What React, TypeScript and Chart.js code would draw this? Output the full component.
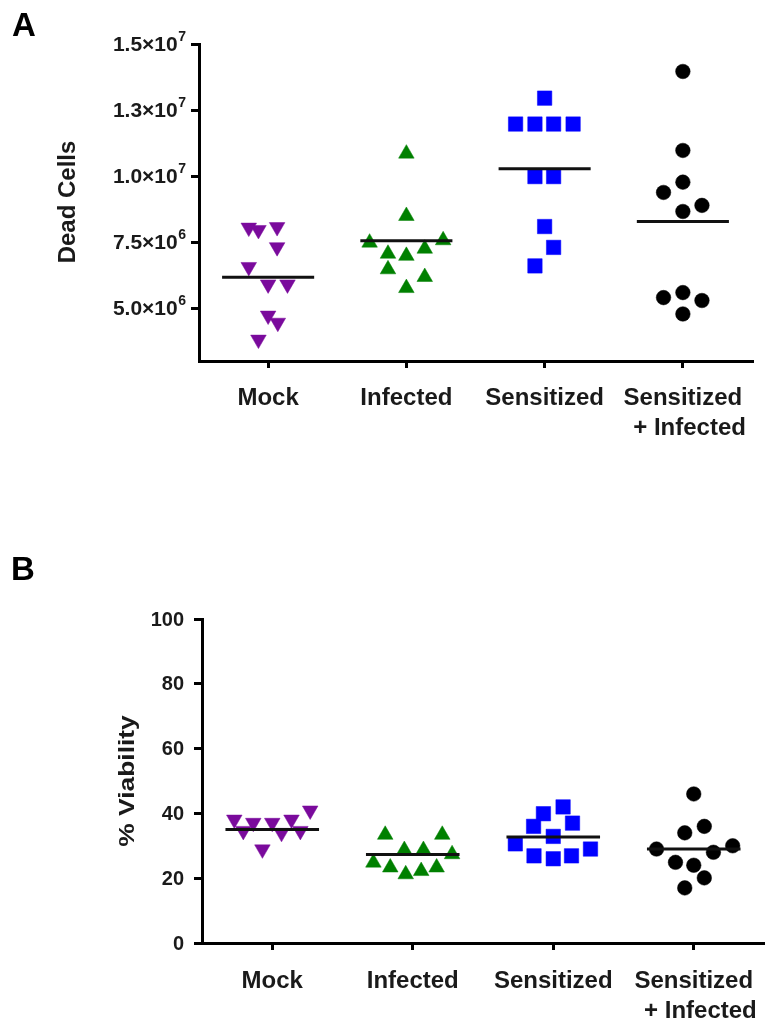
import React, { useEffect, useRef } from "react";
import { Chart, registerables } from "chart.js";

Chart.register(...registerables);

// ---------- shared categories ----------
const categories: string[][] = [["Mock"], ["Infected"], ["Sensitized"], ["Sensitized", "  + Infected"]];

// ---------- Panel A: Dead Cells ----------
const deadTicks = [5e6, 7.5e6, 1e7, 1.25e7, 1.5e7];
const deadTickMantissa = ["5.0×10", "7.5×10", "1.0×10", "1.3×10", "1.5×10"];
const deadTickExponent = ["6", "6", "7", "7", "7"];

const deadMockOffset = [-0.14, -0.07, 0.065, 0.065, -0.14, 0, 0.14, 0, 0.07, -0.07];
const deadMockValues = [8.05e6, 7.96e6, 8.07e6, 7.31e6, 6.56e6, 5.9e6, 5.9e6, 4.72e6, 4.45e6, 3.81e6];

const deadInfectedOffset = [0, 0, -0.266, 0.266, 0.133, -0.133, 0, -0.133, 0.133, 0];
const deadInfectedValues = [10.85e6, 8.49e6, 7.48e6, 7.57e6, 7.25e6, 7.06e6, 6.98e6, 6.47e6, 6.18e6, 5.76e6];

const deadSensOffset = [0, -0.21, -0.07, 0.065, 0.206, -0.07, 0.065, 0, 0.065, -0.07];
const deadSensValues = [12.95e6, 11.97e6, 11.97e6, 11.97e6, 11.97e6, 9.98e6, 9.98e6, 8.09e6, 7.3e6, 6.6e6];

const deadSensInfOffset = [0, 0, 0, -0.14, 0.138, 0, -0.14, 0, 0.138, 0];
const deadSensInfValues = [13.96e6, 10.97e6, 9.77e6, 9.38e6, 8.89e6, 8.66e6, 5.4e6, 5.59e6, 5.29e6, 4.78e6];

const deadMeans = [6.17e6, 7.55e6, 10.28e6, 8.28e6];

// ---------- Panel B: % Viability ----------
const viabTicks = [0, 20, 40, 60, 80, 100];
const viabTickMantissa = ["0", "20", "40", "60", "80", "100"];
const viabTickExponent = ["", "", "", "", "", ""];

const viabMockOffset = [-0.27, -0.206, -0.135, -0.07, 0, 0.066, 0.137, 0.2, 0.27];
const viabMockValues = [38.1, 34.6, 37.1, 28.9, 37.1, 34.0, 38.1, 34.6, 40.9];

const viabInfectedOffset = [-0.196, -0.28, -0.16, -0.06, -0.05, 0.076, 0.06, 0.17, 0.21, 0.28];
const viabInfectedValues = [33.4, 24.8, 23.3, 28.7, 21.2, 28.7, 22.2, 23.3, 33.4, 27.4];

const viabSensOffset = [0.07, -0.07, -0.14, 0.137, 0, -0.27, 0.265, -0.137, 0, 0.13];
const viabSensValues = [42.0, 39.9, 36.0, 37.0, 32.9, 30.6, 29.0, 26.9, 26.0, 26.9];

const viabSensInfOffset = [0, 0.075, -0.064, -0.265, 0.14, 0.277, -0.13, 0, 0.075, -0.064];
const viabSensInfValues = [46.0, 36.0, 34.0, 29.0, 28.0, 30.0, 24.9, 24.0, 20.1, 17.0];

const viabMeans = [35.0, 27.3, 32.7, 29.0];

// ---------- styles ----------
const FONT = '"Liberation Sans", Arial, Helvetica, sans-serif';
const groupStyles = [
  { pointStyle: "triangle", rotation: 180, color: "#7a0a9c", radius: 9 },
  { pointStyle: "triangle", rotation: 0, color: "#008000", radius: 9 },
  { pointStyle: "rect", rotation: 0, color: "#0000ff", radius: 10.2 },
  { pointStyle: "circle", rotation: 0, color: "#000000", radius: 7.3 },
];
const MEAN_HALF = 0.333;

type PanelSpec = {
  height: number;
  offsets: number[][];
  values: number[][];
  means: number[];
  ticks: number[];
  tickMantissa: string[];
  tickExponent: string[];
  tickRight: number;
  tickFont: number;
  yMin: number;
  yMax: number;
  padTop: number;
  padRight: number;
  yWidth: number;
  xHeight: number;
  xLabelPad: number;
  letter: string;
  letterX: number;
  letterY: number;
  title: string;
  titleX: number;
  titleY: number;
  titleFont: number;
  titleStretch: number;
};

function buildConfig(p: PanelSpec): any {
  const datasets: any[] = [];
  p.values.forEach((vals, g) => {
    const st = groupStyles[g];
    datasets.push({
      type: "scatter",
      data: vals.map((v, i) => ({ x: g + p.offsets[g][i], y: v })),
      pointStyle: st.pointStyle,
      rotation: st.rotation,
      pointRadius: st.radius,
      pointBackgroundColor: st.color,
      pointBorderColor: st.color,
      pointBorderWidth: 0.5,
      showLine: false,
      order: 2,
    });
  });
  p.means.forEach((m, g) => {
    datasets.push({
      type: "scatter",
      data: [
        { x: g - MEAN_HALF, y: m },
        { x: g + MEAN_HALF, y: m },
      ],
      showLine: true,
      borderColor: "#111111",
      borderWidth: 3,
      pointRadius: 0,
      order: 1,
    });
  });

  const annot = {
    id: "annot",
    afterDraw(chart: any) {
      const ctx = chart.ctx;
      ctx.save();
      // panel letter
      ctx.fillStyle = "#000";
      ctx.font = `bold 33px ${FONT}`;
      ctx.textAlign = "center";
      ctx.textBaseline = "alphabetic";
      ctx.fillText(p.letter, p.letterX, p.letterY);

      // y tick labels with superscript exponents
      const ys = chart.scales.y;
      ctx.fillStyle = "#1a1a1a";
      p.ticks.forEach((v, i) => {
        const y = ys.getPixelForValue(v);
        const exp = p.tickExponent[i];
        ctx.font = `bold 14px ${FONT}`;
        const ew = exp ? ctx.measureText(exp).width : 0;
        ctx.textBaseline = "middle";
        ctx.textAlign = "left";
        if (exp) ctx.fillText(exp, p.tickRight - ew, y - 7);
        ctx.font = `bold ${p.tickFont}px ${FONT}`;
        ctx.textAlign = "right";
        ctx.fillText(p.tickMantissa[i], p.tickRight - ew - (exp ? 0.5 : 0), y + 1);
      });

      // axis title
      ctx.translate(p.titleX, p.titleY);
      ctx.rotate(-Math.PI / 2);
      ctx.scale(p.titleStretch, 1);
      ctx.fillStyle = "#1a1a1a";
      ctx.font = `bold ${p.titleFont}px ${FONT}`;
      ctx.textAlign = "center";
      ctx.textBaseline = "alphabetic";
      ctx.fillText(p.title, 0, 0);
      ctx.restore();
    },
  };

  return {
    type: "scatter",
    data: { datasets },
    plugins: [annot],
    options: {
      responsive: false,
      animation: false,
      events: [],
      layout: { autoPadding: false, padding: { top: p.padTop, right: p.padRight, left: 0, bottom: 0 } },
      plugins: { legend: { display: false }, tooltip: { enabled: false }, title: { display: false } },
      scales: {
        x: {
          type: "linear",
          min: -0.5,
          max: 3.5,
          afterBuildTicks: (scale: any) => {
            scale.ticks = categories.map((_, i) => ({ value: i }));
          },
          afterFit: (scale: any) => {
            scale.height = p.xHeight;
            scale.paddingLeft = 0;
            scale.paddingRight = 0;
          },
          border: { display: true, color: "#000", width: 3 },
          grid: {
            drawOnChartArea: false,
            drawTicks: true,
            tickLength: 7,
            tickWidth: 3,
            tickColor: "#000",
            color: "#000",
            lineWidth: 3,
          },
          ticks: {
            autoSkip: false,
            maxRotation: 0,
            minRotation: 0,
            padding: p.xLabelPad,
            color: "#1a1a1a",
            font: { family: FONT, size: 24, weight: "bold", lineHeight: 1.25 },
            callback: (_v: any, i: number) => categories[i],
          },
        },
        y: {
          type: "linear",
          min: p.yMin,
          max: p.yMax,
          afterBuildTicks: (scale: any) => {
            scale.ticks = p.ticks.map((v) => ({ value: v }));
          },
          afterFit: (scale: any) => {
            scale.width = p.yWidth;
            scale.paddingTop = 0;
            scale.paddingBottom = 0;
          },
          border: { display: true, color: "#000", width: 3 },
          grid: {
            drawOnChartArea: false,
            drawTicks: true,
            tickLength: 8,
            tickWidth: 3,
            tickColor: "#000",
            color: "#000",
            lineWidth: 3,
          },
          ticks: {
            padding: 4,
            font: { family: FONT, size: 20, weight: "bold" },
            callback: () => "",
          },
        },
      },
    },
  };
}

const panelA: PanelSpec = {
  height: 500,
  offsets: [deadMockOffset, deadInfectedOffset, deadSensOffset, deadSensInfOffset],
  values: [deadMockValues, deadInfectedValues, deadSensValues, deadSensInfValues],
  means: deadMeans,
  ticks: deadTicks,
  tickMantissa: deadTickMantissa,
  tickExponent: deadTickExponent,
  tickRight: 186,
  tickFont: 21,
  yMin: 3e6,
  yMax: 1.5e7,
  padTop: 44,
  padRight: 13,
  yWidth: 199,
  xHeight: 139,
  xLabelPad: 15,
  letter: "A",
  letterX: 24,
  letterY: 36,
  title: "Dead Cells",
  titleX: 75,
  titleY: 202,
  titleFont: 24,
  titleStretch: 1.0,
};

const panelB: PanelSpec = {
  height: 525,
  offsets: [viabMockOffset, viabInfectedOffset, viabSensOffset, viabSensInfOffset],
  values: [viabMockValues, viabInfectedValues, viabSensValues, viabSensInfValues],
  means: viabMeans,
  ticks: viabTicks,
  tickMantissa: viabTickMantissa,
  tickExponent: viabTickExponent,
  tickRight: 184,
  tickFont: 20,
  yMin: 0,
  yMax: 100,
  padTop: 119,
  padRight: 1,
  yWidth: 202,
  xHeight: 82,
  xLabelPad: 16,
  letter: "B",
  letterX: 23,
  letterY: 80,
  title: "% Viability",
  titleX: 134,
  titleY: 281,
  titleFont: 22,
  titleStretch: 1.2,
};

function Panel({ spec, top }: { spec: PanelSpec; top: number }) {
  const ref = useRef<HTMLCanvasElement | null>(null);
  useEffect(() => {
    if (!ref.current) return;
    const chart = new Chart(ref.current, buildConfig(spec));
    return () => chart.destroy();
  }, [spec]);
  return (
    <canvas
      ref={ref}
      width={765}
      height={spec.height}
      style={{ position: "absolute", left: 0, top, width: 765, height: spec.height }}
    />
  );
}

export default function App() {
  return (
    <div style={{ position: "absolute", left: 0, top: 0, width: 765, height: 1025, background: "#fff" }}>
      <Panel spec={panelA} top={0} />
      <Panel spec={panelB} top={500} />
    </div>
  );
}
